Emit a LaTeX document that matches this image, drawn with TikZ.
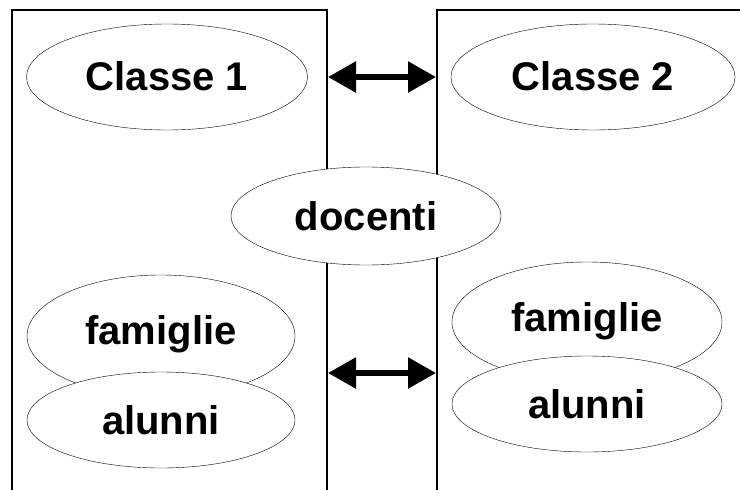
\documentclass[tikz,border=0pt]{standalone}
\usepackage{fontspec}
\setmainfont{Liberation Sans}
\usetikzlibrary{shapes.geometric, arrows.meta, positioning}

\begin{document}
\begin{tikzpicture}[x=1pt, y=-1pt,
	grp/.style={ellipse, draw, thin, fill=white, inner sep=0pt, font=\fontsize{40}{44}\selectfont\bfseries},
	link/.style={{Triangle[length=28pt,width=30pt]}-{Triangle[length=28pt,width=30pt]}, line width=5.5pt, shorten <=1pt, shorten >=1pt}]
			\useasboundingbox (0,0) rectangle (740,490);
			\draw[line width=1.3pt] (12,500) |- (327,10) -- (327,500);
			\draw[line width=1.3pt] (437,500) |- (750,10);
			\coordinate (l1) at (327,77);
			\coordinate (r1) at (437,77);
			\coordinate (l2) at (327,373);
			\coordinate (r2) at (437,373);
			\draw[link] (l1) -- (r1);
			\draw[link] (l2) -- (r2);
			\node[grp, minimum width=281pt, minimum height=106pt] (c1) at (167,77) {\raisebox{2pt}{Classe 1}};
			\node[grp, minimum width=284pt, minimum height=106pt] (c2) at (593,77) {\raisebox{2pt}{Classe 2}};
			\node[grp, minimum width=270pt, minimum height=98pt] (doc) at (366,216) {docenti};
			\node[grp, minimum width=268pt, minimum height=122pt] (fam1) at (161,336) {\raisebox{12pt}{famiglie}};
			\node[grp, minimum width=268pt, minimum height=96pt] (alu1) at (161,420) {alunni};
			\node[grp, minimum width=270pt, minimum height=120pt] (fam2) at (587,322) {\raisebox{10pt}{famiglie}};
			\node[grp, minimum width=270pt, minimum height=96pt] (alu2) at (587,404) {alunni};
		\end{tikzpicture}
\end{document}
